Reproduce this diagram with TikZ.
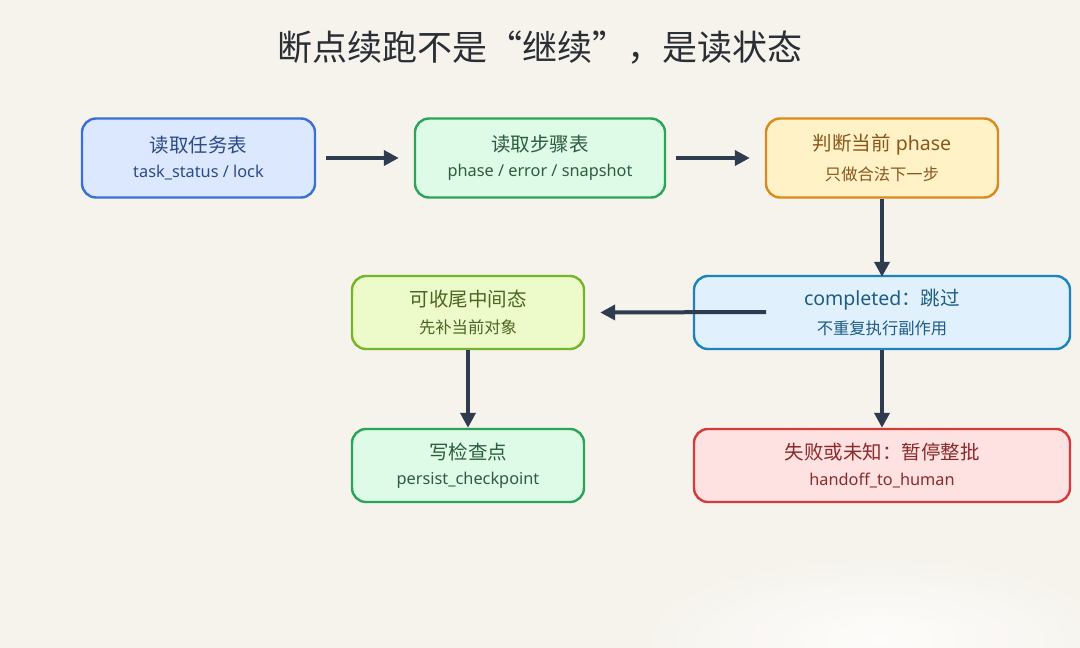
\documentclass[tikz,border=0pt]{standalone}
\usepackage{fontspec}
\setmainfont{Noto Sans}
\newfontfamily\cjk{Noto Sans CJK SC}
\usetikzlibrary{arrows.meta}
\definecolor{bg}{HTML}{F6F3EC}
\definecolor{arrowc}{HTML}{2F3B4F}
\definecolor{titlec}{HTML}{2A2E35}
\definecolor{bfill}{HTML}{DCE8FD}\definecolor{bdraw}{HTML}{3A6FD8}\definecolor{btext}{HTML}{2C4A86}
\definecolor{gfill}{HTML}{DDFBE6}\definecolor{gdraw}{HTML}{2BA457}\definecolor{gtext}{HTML}{2E5C3E}
\definecolor{yfill}{HTML}{FEF2C6}\definecolor{ydraw}{HTML}{DB891C}\definecolor{ytext}{HTML}{8A561C}
\definecolor{cfill}{HTML}{E0F1FD}\definecolor{cdraw}{HTML}{1D83BF}\definecolor{ctext}{HTML}{1E5C84}
\definecolor{lfill}{HTML}{EDFBCB}\definecolor{ldraw}{HTML}{75B52A}\definecolor{ltext}{HTML}{4A6620}
\definecolor{rfill}{HTML}{FEE2E2}\definecolor{rdraw}{HTML}{D63A3A}\definecolor{rtext}{HTML}{8A2A2A}
\newcommand{\boxtext}[2]{{\fontsize{19.5}{22}\selectfont #1}\\[10pt]{\fontsize{16.3}{18}\selectfont #2}}
\tikzset{
  stepbox/.style={rectangle, rounded corners=14pt, line width=2.4pt, align=center, inner sep=0pt},
  conn/.style={draw=arrowc, line width=4pt, -{Triangle[length=15pt,width=15pt]}},
}
\begin{document}
\begin{tikzpicture}[x=1pt,y=-1pt]
\fill[bg] (0,0) rectangle (1080,648);
\useasboundingbox (0,0) rectangle (1080,648);
\shade[inner color=white, outer color=bg, opacity=0.8] (880,640) ellipse (260pt and 90pt);
\fill[bg] (0,0) rectangle (1080,540);
\node[text=titlec, font=\fontsize{35}{40}\selectfont\cjk] (title) at (540,48) {断点续跑不是“继续”，是读状态};
\node[stepbox, fill=bfill, draw=bdraw, text=btext, minimum width=233pt, minimum height=79pt] (b1) at (198.5,158) {\boxtext{\cjk 读取任务表}{task\_status / lock}};
\node[stepbox, fill=gfill, draw=gdraw, text=gtext, minimum width=250pt, minimum height=79pt] (b2) at (540,158) {\boxtext{\cjk 读取步骤表}{phase / error / snapshot}};
\node[stepbox, fill=yfill, draw=ydraw, text=ytext, minimum width=232pt, minimum height=79pt] (b3) at (882,158) {\boxtext{{\cjk 判断当前} phase}{\cjk 只做合法下一步}};
\node[stepbox, fill=cfill, draw=cdraw, text=ctext, minimum width=376pt, minimum height=73pt] (b4) at (882,312.5) {\boxtext{completed{\cjk ：跳过}}{\cjk 不重复执行副作用}};
\node[stepbox, fill=lfill, draw=ldraw, text=ltext, minimum width=232pt, minimum height=73pt] (b5) at (468,312.5) {\boxtext{\cjk 可收尾中间态}{\cjk 先补当前对象}};
\node[stepbox, fill=gfill, draw=gdraw, text=gtext, minimum width=232pt, minimum height=73pt] (b6) at (468,465.5) {\boxtext{\cjk 写检查点}{persist\_checkpoint}};
\node[stepbox, fill=rfill, draw=rdraw, text=rtext, minimum width=376pt, minimum height=73pt] (b7) at (882,465.5) {\boxtext{\cjk 失败或未知：暂停整批}{handoff\_to\_human}};
\coordinate (c4) at (766,312);
\draw[conn] ([xshift=10pt]b1.east) -- ([xshift=-15pt]b2.west);
\draw[conn] ([xshift=10pt]b2.east) -- ([xshift=-15pt]b3.west);
\draw[conn] (b3.south) -- ([yshift=-2pt]b4.north);
\draw[conn] (c4) -- ([xshift=15pt]b5.east);
\draw[conn] (b4.south) -- (b7.north);
\draw[conn] (b5.south) -- (b6.north);
\end{tikzpicture}
\end{document}
